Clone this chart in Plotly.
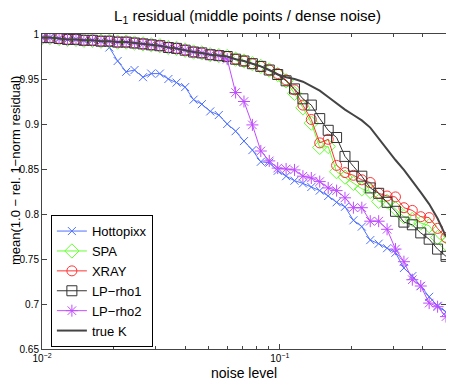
import plotly.graph_objects as go

# noise levels (log spaced)
noise = [0.0100, 0.0108, 0.0118, 0.0128, 0.0139, 0.0150, 0.0163, 0.0177, 0.0192, 0.0208,
         0.0226, 0.0245, 0.0266, 0.0288, 0.0313, 0.0340, 0.0368, 0.0400, 0.0434, 0.0470,
         0.0510, 0.0554, 0.0601, 0.0652, 0.0707, 0.0767, 0.0832, 0.0903, 0.0980, 0.1063,
         0.1153, 0.1251, 0.1357, 0.1472, 0.1598, 0.1733, 0.1880, 0.2040, 0.2213, 0.2401,
         0.2605, 0.2826, 0.3066, 0.3327, 0.3609, 0.3916, 0.4248, 0.4609, 0.5000]

hottopixx = [0.996, 0.996, 0.995, 0.994, 0.994, 0.993, 0.993, 0.992, 0.985, 0.970,
             0.958, 0.960, 0.952, 0.956, 0.956, 0.950, 0.946, 0.941, 0.927, 0.922,
             0.914, 0.910, 0.900, 0.892, 0.881, 0.871, 0.858, 0.857, 0.848, 0.842,
             0.837, 0.834, 0.830, 0.826, 0.820, 0.813, 0.808, 0.793, 0.786, 0.771,
             0.767, 0.762, 0.757, 0.740, 0.731, 0.720, 0.708, 0.698, 0.691]

spa = [0.996, 0.996, 0.995, 0.994, 0.994, 0.993, 0.993, 0.992, 0.992, 0.991,
       0.991, 0.990, 0.989, 0.988, 0.987, 0.985, 0.984, 0.982, 0.980, 0.979,
       0.977, 0.976, 0.975, 0.972, 0.970, 0.967, 0.964, 0.960, 0.955, 0.948,
       0.934, 0.918, 0.901, 0.874, 0.875, 0.847, 0.841, 0.834, 0.828, 0.825,
       0.814, 0.814, 0.806, 0.797, 0.794, 0.790, 0.787, 0.774, 0.767]

xray = [0.996, 0.996, 0.995, 0.994, 0.994, 0.993, 0.993, 0.992, 0.992, 0.991,
        0.991, 0.990, 0.989, 0.988, 0.987, 0.985, 0.984, 0.982, 0.980, 0.979,
        0.977, 0.976, 0.975, 0.972, 0.970, 0.967, 0.964, 0.960, 0.956, 0.949,
        0.938, 0.921, 0.905, 0.879, 0.883, 0.854, 0.846, 0.843, 0.838, 0.835,
        0.823, 0.820, 0.819, 0.807, 0.804, 0.797, 0.796, 0.784, 0.774]

lp_rho1 = [0.996, 0.996, 0.995, 0.994, 0.994, 0.993, 0.993, 0.992, 0.992, 0.991,
           0.991, 0.990, 0.989, 0.988, 0.987, 0.985, 0.984, 0.982, 0.980, 0.979,
           0.977, 0.976, 0.975, 0.972, 0.970, 0.967, 0.964, 0.960, 0.955, 0.948,
           0.939, 0.928, 0.921, 0.906, 0.893, 0.885, 0.864, 0.853, 0.842, 0.829,
           0.823, 0.813, 0.803, 0.791, 0.788, 0.779, 0.772, 0.761, 0.753]

lp_rho2 = [0.996, 0.996, 0.995, 0.994, 0.994, 0.993, 0.993, 0.992, 0.992, 0.991,
           0.991, 0.990, 0.989, 0.988, 0.987, 0.985, 0.984, 0.982, 0.980, 0.979,
           0.977, 0.976, 0.972, 0.935, 0.925, 0.899, 0.870, 0.859, 0.851, 0.850,
           0.849, 0.842, 0.840, 0.836, 0.829, 0.826, 0.818, 0.807, 0.807, 0.792,
           0.792, 0.783, 0.761, 0.747, 0.727, 0.720, 0.701, 0.697, 0.686]

true_k = [0.996, 0.996, 0.995, 0.994, 0.994, 0.993, 0.993, 0.992, 0.992, 0.991,
          0.991, 0.990, 0.989, 0.988, 0.987, 0.985, 0.984, 0.982, 0.980, 0.979,
          0.977, 0.976, 0.975, 0.972, 0.970, 0.967, 0.964, 0.960, 0.955, 0.952,
          0.950, 0.947, 0.942, 0.937, 0.930, 0.923, 0.916, 0.910, 0.904, 0.896,
          0.884, 0.871, 0.860, 0.849, 0.837, 0.824, 0.811, 0.795, 0.775]

x_tickvals = [0.01, 0.1]
x_ticktext = ["10<sup>\u22122</sup>", "10<sup>\u22121</sup>"]
x_minor = [0.02, 0.03, 0.04, 0.05, 0.06, 0.07, 0.08, 0.09, 0.2, 0.3, 0.4]
y_tickvals = [0.65, 0.7, 0.75, 0.8, 0.85, 0.9, 0.95, 1.0]
y_ticktext = ["0.65", "0.7", "0.75", "0.8", "0.85", "0.9", "0.95", "1"]

FONT = "Liberation Sans, Arial, Helvetica, sans-serif"

series = [
    ("Hottopixx", hottopixx, "#4f70ff", "x-thin-open", 8),
    ("SPA", spa, "#66ff33", "diamond-open", 11),
    ("XRAY", xray, "#ff3333", "circle-open", 10),
    ("LP\u2212rho1", lp_rho1, "#333333", "square-open", 10),
    ("LP\u2212rho2", lp_rho2, "#c04cff", "asterisk-open", 10),
]

fig = go.Figure()
for name, vals, col, sym, sz in series:
    fig.add_trace(go.Scatter(
        x=noise, y=vals, name=name, mode="lines+markers",
        line=dict(color=col, width=1),
        marker=dict(symbol=sym, size=sz, color=col, line=dict(color=col, width=1)),
    ))

fig.add_trace(go.Scatter(
    x=noise, y=true_k, name="true K", mode="lines",
    line=dict(color="#444444", width=2),
))

# the page adds an 8px body margin, so the figure is 8px smaller on each side
fig.update_layout(
    width=446, height=376,
    margin=dict(l=34, r=8, t=26, b=35),
    paper_bgcolor="white", plot_bgcolor="white",
    font=dict(family=FONT, color="black", size=10),
    title=dict(text="L<sub>1</sub> residual (middle points / dense noise)",
               x=0.537, xanchor="center", y=0.98, yanchor="middle",
               font=dict(size=15, family=FONT)),
    legend=dict(x=0.022, y=0.006, xanchor="left", yanchor="bottom",
                bgcolor="white", bordercolor="black", borderwidth=1,
                font=dict(size=13, family=FONT), tracegroupgap=0,
                itemwidth=30),
    showlegend=True,
    annotations=[
        dict(text="noise level", xref="paper", yref="paper",
             x=0.5, y=-0.076, xanchor="center", yanchor="middle",
             showarrow=False, font=dict(size=14, family=FONT)),
        dict(text="mean(1.0 \u2212 rel. 1\u2212norm residual)", xref="paper", yref="paper",
             x=-0.067, y=0.568, xanchor="center", yanchor="middle", textangle=-90,
             showarrow=False, font=dict(size=13, family=FONT)),
    ],
)

fig.update_xaxes(
    type="log", range=[-2, -0.30103],
    tickvals=x_tickvals, ticktext=x_ticktext,
    ticks="inside", ticklen=5, tickcolor="#444",
    minor=dict(tickvals=x_minor, ticks="inside", ticklen=3, tickcolor="#444"),
    showline=True, linecolor="#444", linewidth=1, mirror="ticks",
    showgrid=False, zeroline=False,
    tickfont=dict(size=10),
)
fig.update_yaxes(
    range=[0.65, 1.0],
    tickvals=y_tickvals, ticktext=y_ticktext,
    ticks="inside", ticklen=5, tickcolor="#444",
    showline=True, linecolor="#444", linewidth=1, mirror="ticks",
    showgrid=False, zeroline=False,
    tickfont=dict(size=10),
)

fig.write_html("out.html")
